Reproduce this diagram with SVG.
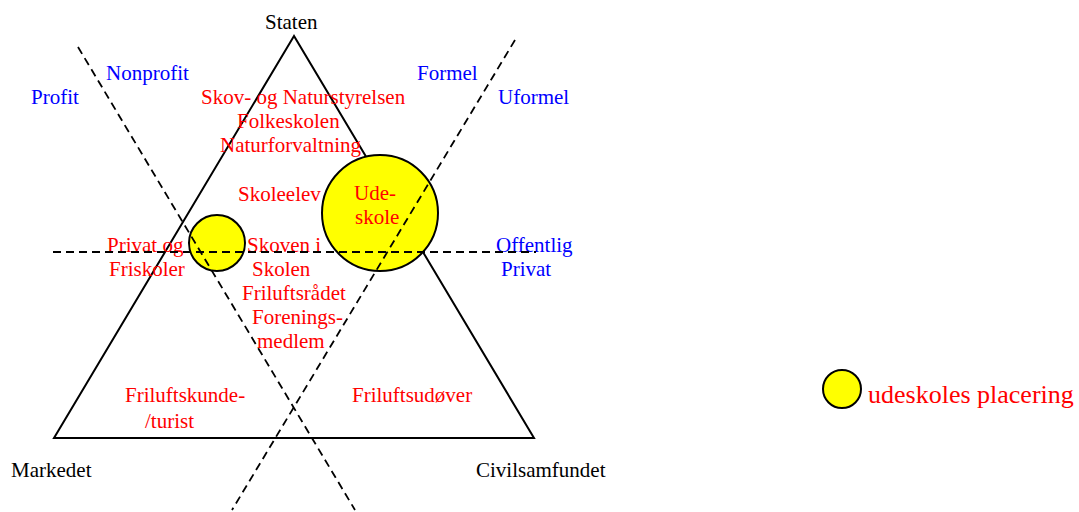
<svg xmlns="http://www.w3.org/2000/svg" width="1079" height="512" viewBox="0 0 1079 512">
<style>
text { font-family: "Liberation Serif", "Times New Roman", serif; font-size: 21px; }
.k { fill: #000000; }
.r { fill: #FF0000; }
.b { fill: #0000FF; }
.dash { fill: none; stroke: #000000; stroke-width: 1.8; stroke-dasharray: 8 5; }
.tri { fill: none; stroke: #000000; stroke-width: 2; }
.dot { fill: #FFFF00; stroke: #000000; stroke-width: 2; }
</style>
<rect width="1079" height="512" fill="#FFFFFF"/>
<g id="triangle">
<polygon class="tri" points="294,36 54,438 534,438"/>
</g>
<g id="corners">
<text class="k" x="265" y="29">Staten</text>
<text class="k" x="11" y="477">Markedet</text>
<text class="k" x="476" y="477">Civilsamfundet</text>
</g>
<g id="axis-labels">
<text class="b" x="106" y="80">Nonprofit</text>
<text class="b" x="31" y="104">Profit</text>
<text class="b" x="417" y="80">Formel</text>
<text class="b" x="498" y="104">Uformel</text>
<text class="b" x="496" y="252">Offentlig</text>
<text class="b" x="501" y="276">Privat</text>
</g>
<g id="state-labels">
<text class="r" x="201" y="104">Skov- og Naturstyrelsen</text>
<text class="r" x="237" y="128">Folkeskolen</text>
<text class="r" x="220" y="152">Naturforvaltning</text>
<text class="r" x="238" y="201">Skoleelev</text>
</g>
<g id="middle-labels">
<text class="r" x="107" y="252">Privat og</text>
<text class="r" x="109" y="276">Friskoler</text>
<text class="r" x="247" y="252">Skoven i</text>
<text class="r" x="252" y="276">Skolen</text>
<text class="r" x="242" y="300">Friluftsrådet</text>
<text class="r" x="252" y="324">Forenings-</text>
<text class="r" x="257" y="348">medlem</text>
</g>
<g id="bottom-labels">
<text class="r" x="125" y="402">Friluftskunde-</text>
<text class="r" x="145" y="428">/turist</text>
<text class="r" x="352" y="402">Friluftsudøver</text>
</g>
<g id="small-circle">
<circle class="dot" cx="217" cy="243" r="28"/>
</g>
<g id="udeskole-circle">
<circle class="dot" cx="380" cy="213" r="58"/>
</g>
<g id="connectors">
<line class="dash" x1="78" y1="47" x2="355" y2="510"/>
<line class="dash" x1="515" y1="40" x2="232" y2="510"/>
<line class="dash" x1="53" y1="252" x2="536" y2="252"/>
</g>
<g id="udeskole">
<text class="r" x="354" y="200">Ude-</text>
<text class="r" x="355" y="224">skole</text>
</g>
<g id="legend">
<circle class="dot" cx="842" cy="389" r="19"/>
<text class="r" x="868" y="403" style="font-size:26px">udeskoles placering</text>
</g>
</svg>
